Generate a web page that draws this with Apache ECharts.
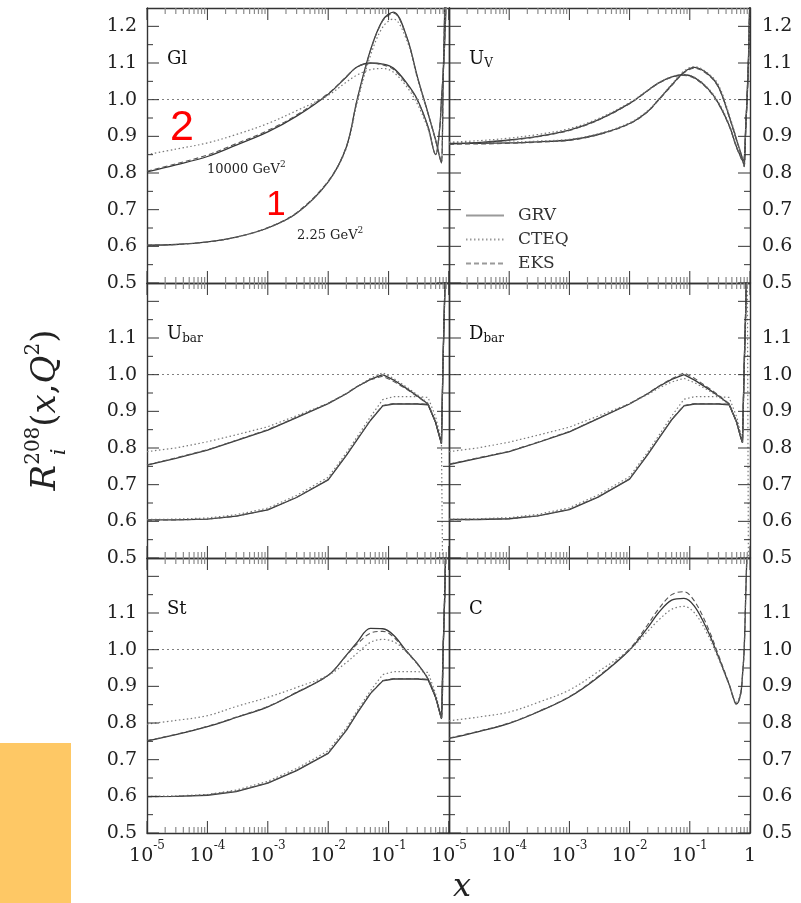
<!DOCTYPE html>
<html>
<head>
<meta charset="utf-8">
<script src="https://cdn.jsdelivr.net/npm/echarts@6/dist/echarts.min.js"></script>
<style>
  html, body { margin: 0; padding: 0; background: #fff; }
  #main { width: 801px; height: 903px; }
</style>
</head>
<body>
<div id="main"></div>
<script>
// sample points in x, every curve below is read at these
const xs = [1e-5, 3e-5, 1e-4, 3e-4, 1e-3, 3e-3, 0.01, 0.02, 0.03, 0.05, 0.08, 0.12, 0.2, 0.3, 0.45, 0.6, 0.7, 0.75, 0.8, 0.85, 0.9, 0.95, 0.99];

// Gl, 2.25 GeV^2 (1) and 10000 GeV^2 (2)
const glLowGRV   = [0.603, 0.605, 0.612, 0.625, 0.650, 0.690, 0.776, 0.871, 0.999, 1.135, 1.217, 1.239, 1.171, 1.062, 0.963, 0.890, 0.844, 0.827, 1.05, 1.25, 1.5, 1.9, 2.3];
const glLowCTEQ  = [0.603, 0.605, 0.612, 0.625, 0.650, 0.690, 0.776, 0.868, 0.990, 1.120, 1.198, 1.220, 1.162, 1.058, 0.962, 0.890, 0.846, 0.830, 1.05, 1.25, 1.5, 1.9, 2.3];
const glLowEKS   = [0.603, 0.605, 0.612, 0.625, 0.651, 0.692, 0.778, 0.872, 0.998, 1.133, 1.215, 1.236, 1.170, 1.060, 0.962, 0.889, 0.844, 0.828, 1.05, 1.25, 1.5, 1.9, 2.3];
const glHighGRV  = [0.803, 0.822, 0.845, 0.876, 0.912, 0.955, 1.015, 1.062, 1.089, 1.100, 1.097, 1.086, 1.045, 1.000, 0.926, 0.850, 0.92, 1.0, 1.07, 1.16, 1.28, 1.45, 1.6];
const glHighCTEQ = [0.850, 0.865, 0.882, 0.905, 0.935, 0.970, 1.012, 1.048, 1.067, 1.082, 1.085, 1.075, 1.035, 0.988, 0.920, 0.852, 0.92, 1.0, 1.07, 1.16, 1.28, 1.45, 1.6];
const glHighEKS  = [0.805, 0.825, 0.849, 0.880, 0.916, 0.958, 1.017, 1.063, 1.089, 1.099, 1.095, 1.083, 1.042, 0.998, 0.925, 0.851, 0.92, 1.0, 1.07, 1.16, 1.28, 1.45, 1.6];

// U_V
const uvLowGRV   = [0.881, 0.881, 0.882, 0.885, 0.890, 0.905, 0.935, 0.968, 0.999, 1.040, 1.075, 1.088, 1.070, 1.035, 0.955, 0.890, 0.855, 0.838, 0.818, 0.93, 1.01, 1.12, 1.26];
const uvLowCTEQ  = [0.883, 0.883, 0.884, 0.887, 0.892, 0.907, 0.937, 0.970, 1.000, 1.042, 1.078, 1.090, 1.072, 1.040, 0.960, 0.893, 0.857, 0.840, 0.820, 0.93, 1.01, 1.12, 1.26];
const uvLowEKS   = [0.879, 0.879, 0.881, 0.884, 0.889, 0.904, 0.934, 0.967, 0.998, 1.038, 1.073, 1.086, 1.068, 1.033, 0.953, 0.888, 0.853, 0.836, 0.817, 0.93, 1.01, 1.12, 1.26];
const uvHighGRV  = [0.879, 0.883, 0.890, 0.900, 0.917, 0.945, 0.990, 1.025, 1.045, 1.062, 1.068, 1.060, 1.030, 0.990, 0.930, 0.870, 0.845, 0.835, 0.838, 0.92, 1.02, 1.13, 1.27];
const uvHighCTEQ = [0.884, 0.888, 0.895, 0.905, 0.921, 0.948, 0.992, 1.026, 1.046, 1.063, 1.069, 1.061, 1.032, 0.993, 0.933, 0.872, 0.847, 0.836, 0.840, 0.92, 1.02, 1.13, 1.27];
const uvHighEKS  = [0.878, 0.882, 0.889, 0.899, 0.916, 0.944, 0.989, 1.024, 1.044, 1.061, 1.066, 1.058, 1.028, 0.988, 0.928, 0.868, 0.843, 0.833, 0.836, 0.92, 1.02, 1.13, 1.27];

// U_bar
const ubLowGRV   = [0.604, 0.604, 0.606, 0.614, 0.631, 0.665, 0.713, 0.780, 0.822, 0.875, 0.915, 0.920, 0.920, 0.920, 0.918, 0.870, 0.830, 0.812, 1.05, 1.22, 1.45, 1.8, 2.2];
const ubLowCTEQ  = [0.605, 0.606, 0.609, 0.618, 0.636, 0.671, 0.720, 0.787, 0.830, 0.885, 0.932, 0.940, 0.940, 0.940, 0.938, 0.885, 0.840, 0.820, 0.3, 0.3, 0.3, 0.3, 0.3];
const ubLowEKS   = [0.603, 0.604, 0.606, 0.614, 0.632, 0.666, 0.714, 0.781, 0.823, 0.876, 0.916, 0.921, 0.921, 0.921, 0.919, 0.871, 0.831, 0.813, 1.05, 1.22, 1.45, 1.8, 2.2];
const ubHighGRV  = [0.753, 0.772, 0.794, 0.820, 0.849, 0.883, 0.921, 0.948, 0.967, 0.987, 1.000, 0.986, 0.962, 0.942, 0.920, 0.870, 0.830, 0.812, 1.05, 1.22, 1.45, 1.8, 2.2];
const ubHighCTEQ = [0.790, 0.800, 0.817, 0.836, 0.858, 0.888, 0.922, 0.948, 0.967, 0.990, 1.005, 0.990, 0.966, 0.945, 0.922, 0.872, 0.832, 0.814, 1.05, 1.22, 1.45, 1.8, 2.2];
const ubHighEKS  = [0.754, 0.773, 0.795, 0.821, 0.850, 0.884, 0.922, 0.949, 0.968, 0.986, 0.996, 0.982, 0.960, 0.940, 0.919, 0.870, 0.830, 0.812, 1.05, 1.22, 1.45, 1.8, 2.2];

// D_bar
const dbLowGRV   = [0.605, 0.605, 0.607, 0.615, 0.632, 0.666, 0.715, 0.782, 0.824, 0.877, 0.915, 0.920, 0.920, 0.920, 0.918, 0.870, 0.830, 0.815, 1.02, 1.18, 1.4, 1.7, 2.0];
const dbLowCTEQ  = [0.606, 0.607, 0.610, 0.619, 0.637, 0.672, 0.722, 0.789, 0.832, 0.887, 0.933, 0.940, 0.940, 0.940, 0.938, 0.885, 0.840, 0.822, 1.0, 1.15, 1.35, 0.3, 0.3];
const dbLowEKS   = [0.604, 0.605, 0.607, 0.615, 0.633, 0.667, 0.716, 0.783, 0.825, 0.878, 0.916, 0.921, 0.921, 0.921, 0.919, 0.871, 0.831, 0.816, 1.02, 1.18, 1.4, 1.7, 2.0];
const dbHighGRV  = [0.755, 0.772, 0.790, 0.815, 0.844, 0.880, 0.920, 0.948, 0.967, 0.987, 1.000, 0.985, 0.962, 0.942, 0.920, 0.870, 0.830, 0.815, 1.02, 1.18, 1.4, 1.7, 2.0];
const dbHighCTEQ = [0.790, 0.800, 0.816, 0.835, 0.857, 0.887, 0.921, 0.946, 0.963, 0.980, 0.990, 0.978, 0.958, 0.940, 0.918, 0.870, 0.831, 0.816, 1.02, 1.18, 1.4, 1.7, 2.0];
const dbHighEKS  = [0.756, 0.773, 0.791, 0.816, 0.845, 0.881, 0.921, 0.949, 0.968, 0.989, 1.005, 0.990, 0.965, 0.944, 0.921, 0.871, 0.831, 0.815, 1.02, 1.18, 1.4, 1.7, 2.0];

// St
const stLowGRV   = [0.599, 0.600, 0.603, 0.613, 0.636, 0.670, 0.717, 0.780, 0.826, 0.880, 0.915, 0.920, 0.920, 0.920, 0.918, 0.870, 0.830, 0.812, 1.0, 1.15, 1.35, 1.7, 2.0];
const stLowCTEQ  = [0.600, 0.601, 0.605, 0.617, 0.641, 0.676, 0.724, 0.787, 0.833, 0.888, 0.932, 0.940, 0.940, 0.940, 0.938, 0.880, 0.835, 0.815, 1.0, 1.15, 1.35, 1.7, 2.0];
const stLowEKS   = [0.599, 0.600, 0.604, 0.614, 0.637, 0.671, 0.718, 0.781, 0.827, 0.881, 0.916, 0.921, 0.921, 0.921, 0.919, 0.871, 0.831, 0.813, 1.0, 1.15, 1.35, 1.7, 2.0];
const stHighGRV  = [0.751, 0.768, 0.790, 0.815, 0.844, 0.883, 0.930, 0.985, 1.020, 1.058, 1.057, 1.040, 0.995, 0.962, 0.920, 0.870, 0.830, 0.812, 1.0, 1.15, 1.35, 1.7, 2.0];
const stHighCTEQ = [0.797, 0.807, 0.820, 0.845, 0.870, 0.897, 0.930, 0.965, 0.990, 1.020, 1.028, 1.022, 0.995, 0.960, 0.920, 0.870, 0.830, 0.812, 1.0, 1.15, 1.35, 1.7, 2.0];
const stHighEKS  = [0.752, 0.769, 0.791, 0.816, 0.845, 0.884, 0.930, 0.984, 1.015, 1.045, 1.050, 1.035, 0.993, 0.961, 0.920, 0.870, 0.830, 0.812, 1.0, 1.15, 1.35, 1.7, 2.0];

// C
const cGRV  = [0.758, 0.776, 0.799, 0.830, 0.871, 0.925, 0.999, 1.060, 1.100, 1.135, 1.140, 1.118, 1.050, 0.980, 0.905, 0.852, 0.880, 0.930, 1.000, 1.15, 1.3, 1.5, 1.7];
const cCTEQ = [0.806, 0.816, 0.830, 0.856, 0.890, 0.940, 1.000, 1.050, 1.080, 1.110, 1.118, 1.100, 1.040, 0.975, 0.905, 0.857, 0.885, 0.935, 1.005, 1.15, 1.3, 1.5, 1.7];
const cEKS  = [0.759, 0.777, 0.800, 0.831, 0.872, 0.927, 1.002, 1.068, 1.110, 1.150, 1.158, 1.132, 1.060, 0.985, 0.907, 0.850, 0.878, 0.928, 0.998, 1.15, 1.3, 1.5, 1.7];

// axis ranges, ticks and labels
const xMin = 1e-5, xMax = 1, yMin = 0.5, yMax = 1.25;
const xTickLabels = [1e-5, 1e-4, 1e-3, 1e-2, 1e-1, 1];
const yTickLabelsTop = [0.5, 0.6, 0.7, 0.8, 0.9, 1.0, 1.1, 1.2];
const yTickLabelsRest = [0.5, 0.6, 0.7, 0.8, 0.9, 1.0, 1.1];
const yMinorTicks = [0.55, 0.65, 0.75, 0.85, 0.95, 1.05, 1.15];
const legendNames = ['GRV', 'CTEQ', 'EKS'];
const panelTitles = ['{m|Gl}', '{m|U}{s|V}', '{m|U}{s|bar}', '{m|D}{s|bar}', '{m|St}', '{m|C}'];

let xMinorTicks = [];
for (let d = -5; d < 0; d++) {
  for (let k = 2; k < 10; k++) xMinorTicks.push(k * Math.pow(10, d));
}

let panels = [
  { curves: [glLowGRV, glLowCTEQ, glLowEKS, glHighGRV, glHighCTEQ, glHighEKS], smooth: [0.35, 0.35] },
  { curves: [uvLowGRV, uvLowCTEQ, uvLowEKS, uvHighGRV, uvHighCTEQ, uvHighEKS], smooth: [0.35, 0.35] },
  { curves: [ubLowGRV, ubLowCTEQ, ubLowEKS, ubHighGRV, ubHighCTEQ, ubHighEKS], smooth: [false, false] },
  { curves: [dbLowGRV, dbLowCTEQ, dbLowEKS, dbHighGRV, dbHighCTEQ, dbHighEKS], smooth: [false, false] },
  { curves: [stLowGRV, stLowCTEQ, stLowEKS, stHighGRV, stHighCTEQ, stHighEKS], smooth: [false, 0.35] },
  { curves: [cGRV, cCTEQ, cEKS], smooth: [0.35] }
];

const FONT = 'DejaVu Serif';
let colLeft = [147, 449], colWidth = [302, 301], rowTop = [8, 283, 558], rowHeight = 275;

let lineStyles = {
  GRV: { color: '#383838', width: 1.3, type: 'solid' },
  CTEQ: { color: '#7a7a7a', width: 1.2, type: [1.5, 2.5] },
  EKS: { color: '#555', width: 1.1, type: [5, 3] }
};

let xRich = {
  b: { fontFamily: FONT, fontSize: 19, color: '#222', lineHeight: 26, verticalAlign: 'bottom' },
  s: { fontFamily: FONT, fontSize: 12, color: '#222', lineHeight: 12, verticalAlign: 'top' }
};
function xFmt(v) {
  if (v >= 1) return '{b|1}';
  return '{b|10}{s|' + Math.round(Math.log10(v)) + '}';
}

let grid = [], xAxis = [], yAxis = [], series = [], graphic = [];

panels.forEach((p, i) => {
  let col = i % 2, row = Math.floor(i / 2);
  grid.push({
    left: colLeft[col], top: rowTop[row], width: colWidth[col], height: rowHeight,
    show: false, outerBoundsMode: 'none'
  });

  ['bottom', 'top'].forEach(pos => {
    xAxis.push({
      gridIndex: i, type: 'log', logBase: 10, min: xMin, max: xMax, position: pos,
      splitLine: { show: false },
      axisLine: { show: true, onZero: false, lineStyle: { color: '#333', width: 1.4 } },
      axisTick: { show: false },
      axisLabel: {
        show: pos === 'bottom' && row === 2, margin: 7, formatter: xFmt, rich: xRich,
        customValues: col === 0 ? xTickLabels.slice(0, 5) : xTickLabels
      }
    });
  });

  ['left', 'right'].forEach((pos, k) => {
    let showLabel = (col === 0 && k === 0) || (col === 1 && k === 1);
    yAxis.push({
      gridIndex: i, type: 'value', min: yMin, max: yMax, interval: 0.1, position: pos,
      splitLine: { show: false },
      axisLine: { show: true, onZero: false, lineStyle: { color: '#333', width: 1.4 } },
      axisTick: { show: false },
      axisLabel: {
        show: showLabel, margin: col === 0 ? 10 : 12,
        customValues: row === 0 ? yTickLabelsTop : yTickLabelsRest,
        formatter: v => v.toFixed(1),
        fontFamily: FONT, fontSize: 19, color: '#222'
      }
    });
  });

  p.curves.forEach((ys, k) => {
    let set = legendNames[k % 3];
    let s = {
      name: set, type: 'line', xAxisIndex: i * 2, yAxisIndex: i * 2,
      data: xs.map((x, j) => [x, ys[j]]),
      symbol: 'none', smooth: p.smooth[Math.floor(k / 3)],
      clip: true, silent: true, animation: false,
      itemStyle: { color: lineStyles[set].color },
      lineStyle: lineStyles[set]
    };
    if (k === 0) {
      s.markLine = {
        silent: true, symbol: ['none', 'none'], animation: false,
        label: { show: false },
        lineStyle: { color: '#808080', width: 1, type: [2, 3] },
        data: [{ yAxis: 1 }]
      };
    }
    series.push(s);
  });

  graphic.push({
    type: 'text', x: colLeft[col] + 20, y: rowTop[row] + 51, silent: true,
    style: {
      text: panelTitles[i], align: 'left', verticalAlign: 'middle',
      textAlign: 'left', textVerticalAlign: 'middle',
      rich: {
        m: { fontFamily: FONT, fontSize: 18, fill: '#111', color: '#111', lineHeight: 22, verticalAlign: 'middle' },
        s: { fontFamily: FONT, fontSize: 12, fill: '#111', color: '#111', lineHeight: 14, verticalAlign: 'bottom' }
      }
    }
  });
});

let gevRich = {
  n: { fontFamily: FONT, fontSize: 13, fill: '#222', color: '#222', lineHeight: 16, verticalAlign: 'bottom' },
  s: { fontFamily: FONT, fontSize: 9, fill: '#222', color: '#222', lineHeight: 9, verticalAlign: 'top' }
};
let titleRich = {
  it: { fontFamily: FONT, fontStyle: 'italic', fontSize: 34, fill: '#222', color: '#222', lineHeight: 44, verticalAlign: 'middle' },
  n: { fontFamily: FONT, fontSize: 34, fill: '#222', color: '#222', lineHeight: 44, verticalAlign: 'middle' },
  sup: { fontFamily: FONT, fontSize: 20, fill: '#222', color: '#222', lineHeight: 14, verticalAlign: 'top' }
};

graphic.push(
  { type: 'rect', silent: true, shape: { x: 0, y: 743, width: 71, height: 160 }, style: { fill: '#fec865' } },
  {
    type: 'text', x: 207, y: 168, silent: true,
    style: { text: '{n|10000 GeV}{s|2}', rich: gevRich, align: 'left', verticalAlign: 'middle', textAlign: 'left', textVerticalAlign: 'middle' }
  },
  {
    type: 'text', x: 297, y: 234, silent: true,
    style: { text: '{n|2.25 GeV}{s|2}', rich: gevRich, align: 'left', verticalAlign: 'middle', textAlign: 'left', textVerticalAlign: 'middle' }
  },
  {
    type: 'text', x: 182, y: 128, silent: true,
    style: { text: '2', fill: '#f00', fontFamily: 'Liberation Sans', fontSize: 43, align: 'center', verticalAlign: 'middle', textAlign: 'center', textVerticalAlign: 'middle' }
  },
  {
    type: 'text', x: 276, y: 205, silent: true,
    style: { text: '1', fill: '#f00', fontFamily: 'Liberation Sans', fontSize: 35, align: 'center', verticalAlign: 'middle', textAlign: 'center', textVerticalAlign: 'middle' }
  },
  {
    type: 'text', x: 46, y: 410, rotation: Math.PI / 2, silent: true,
    style: {
      text: '{it|R}{sup|208}{n|(}{it|x}{n|,}{it|Q}{sup|2}{n|)}', rich: titleRich,
      align: 'center', verticalAlign: 'middle', textAlign: 'center', textVerticalAlign: 'middle'
    }
  },
  {
    type: 'text', x: 60, y: 452, rotation: Math.PI / 2, silent: true,
    style: { text: 'i', fill: '#222', fontFamily: FONT, fontStyle: 'italic', fontSize: 21, align: 'center', verticalAlign: 'middle', textAlign: 'center', textVerticalAlign: 'middle' }
  },
  {
    type: 'text', x: 462, y: 888, silent: true,
    style: { text: 'x', fill: '#222', fontFamily: FONT, fontStyle: 'italic', fontSize: 32, align: 'center', verticalAlign: 'middle', textAlign: 'center', textVerticalAlign: 'middle' }
  }
);

let chart = echarts.init(document.getElementById('main'));
chart.setOption({
  animation: false,
  backgroundColor: '#fff',
  legend: {
    data: legendNames, orient: 'vertical', left: 465, top: 207, padding: 0,
    itemWidth: 38, itemHeight: 14, itemGap: 7, selectedMode: false,
    lineStyle: { color: '#9a9a9a', width: 2 },
    itemStyle: { opacity: 0 },
    textStyle: { fontFamily: FONT, fontSize: 17, color: '#333', padding: [0, 0, 0, 9] }
  },
  grid: grid,
  xAxis: xAxis,
  yAxis: yAxis,
  series: series,
  graphic: graphic
});

// inward ticks on all four sides, drawn as thin filled rects
// positions come from each panel's axes; the grid rect is only a fallback
function toPixel(i, pt) {
  let r = null;
  try { r = chart.convertToPixel({ gridIndex: i }, pt); } catch (e) { r = null; }
  if (r && isFinite(r[0]) && isFinite(r[1])) return r;
  let col = i % 2, row = Math.floor(i / 2);
  let lx = Math.log10(xMin), hx = Math.log10(xMax);
  return [
    colLeft[col] + colWidth[col] * (Math.log10(pt[0]) - lx) / (hx - lx),
    rowTop[row] + rowHeight * (yMax - pt[1]) / (yMax - yMin)
  ];
}
function tickRect(x, y, w, h, color) {
  return { type: 'rect', silent: true, z: 10, shape: { x: x, y: y, width: w, height: h }, style: { fill: color } };
}
let tickEls = [];
panels.forEach((p, i) => {
  let xTick = (v, len, w, color) => {
    let a = toPixel(i, [v, yMin]), b = toPixel(i, [v, yMax]);
    tickEls.push(tickRect(a[0] - w / 2, a[1] - len, w, len, color));
    tickEls.push(tickRect(b[0] - w / 2, b[1], w, len, color));
  };
  let yTick = (v, len) => {
    let a = toPixel(i, [xMin, v]), b = toPixel(i, [xMax, v]);
    tickEls.push(tickRect(a[0], a[1] - 0.5, len, 1, '#333'));
    tickEls.push(tickRect(b[0] - len, b[1] - 0.5, len, 1, '#333'));
  };
  xTickLabels.forEach(v => xTick(v, 12, 1, '#333'));
  xMinorTicks.forEach(v => xTick(v, 6, 1.2, '#8a8a8a'));
  yTickLabelsTop.forEach(v => yTick(v, 12));
  yMinorTicks.forEach(v => yTick(v, 6));
});
chart.setOption({ graphic: graphic.concat(tickEls) });
</script>
</body>
</html>
